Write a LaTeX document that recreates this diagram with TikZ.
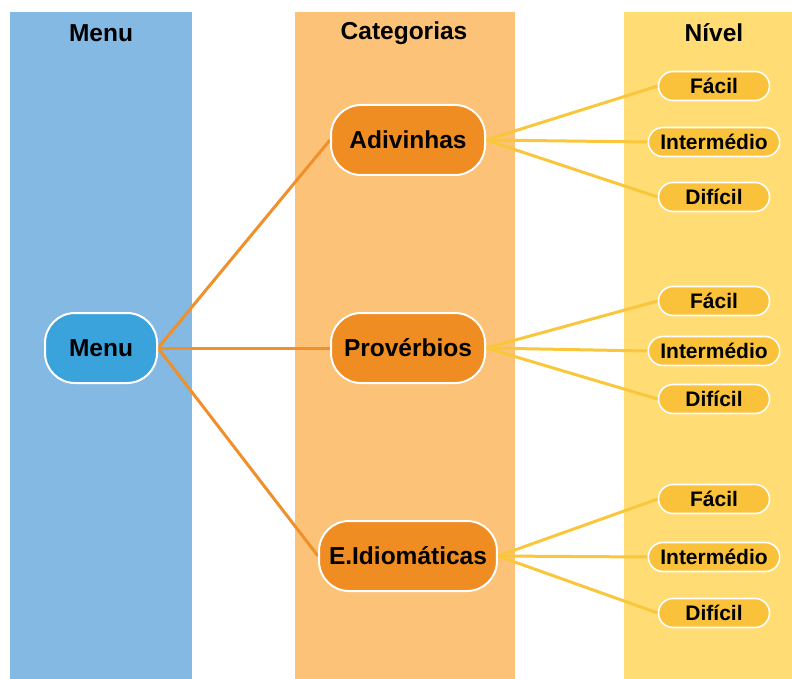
\documentclass[tikz,border=0pt]{standalone}
\usepackage{fontspec}
\setmainfont{Liberation Sans}
\usetikzlibrary{backgrounds}

\definecolor{colblue}{HTML}{84B9E3}
\definecolor{colorange}{HTML}{FCC277}
\definecolor{colyellow}{HTML}{FFDC74}
\definecolor{menufill}{HTML}{3AA3DC}
\definecolor{catfill}{HTML}{EF8C22}
\definecolor{levelfill}{HTML}{FAC23B}
\definecolor{catline}{HTML}{F0902A}
\definecolor{levelline}{HTML}{FAC63C}

\tikzset{
  header/.style={font=\fontsize{24.5}{28}\selectfont\bfseries, text=black},
  menubox/.style={draw=white, line width=2pt, fill=menufill, rounded corners=30pt,
    minimum width=112pt, minimum height=70pt, inner sep=0pt,
    font=\fontsize{24.5}{28}\selectfont\bfseries},
  catbox/.style={draw=white, line width=2pt, fill=catfill, rounded corners=30pt,
    minimum width=154pt, minimum height=70pt, inner xsep=10pt, inner ysep=0pt,
    font=\fontsize{24.5}{28}\selectfont\bfseries},
  levelbox/.style={draw=white, line width=1.6pt, fill=levelfill, rounded corners=14.5pt,
    minimum width=111pt, minimum height=29pt, inner xsep=12pt, inner ysep=0pt,
    font=\fontsize{21}{24}\selectfont\bfseries},
  catlink/.style={draw=catline, line width=3pt},
  levellink/.style={draw=levelline, line width=3pt},
}

\begin{document}
\begin{tikzpicture}[x=1pt, y=-1pt]
  \useasboundingbox (0,0) rectangle (792,679);

  % column headings
  \node[header] (hmenu) at (101,33) {Menu};
  \node[header] (hcat)  at (404,33) {Categorias};
  \node[header] (hlvl)  at (714,33) {Nível};

  % root
  \node[menubox] (menu) at (101,348) {Menu};

  % categories
  \node[catbox] (adiv) at (408,140) {Adivinhas};
  \node[catbox] (prov) at (408,348) {Provérbios};
  \node[catbox] (expr) at (408,556) {E.Idiomáticas};

  % levels
  \node[levelbox] (a1) at (714,86)  {Fácil};
  \node[levelbox] (a2) at (714,142) {Intermédio};
  \node[levelbox] (a3) at (714,197) {Difícil};

  \node[levelbox] (p1) at (714,301) {Fácil};
  \node[levelbox] (p2) at (714,351) {Intermédio};
  \node[levelbox] (p3) at (714,399) {Difícil};

  \node[levelbox] (e1) at (714,499) {Fácil};
  \node[levelbox] (e2) at (714,557) {Intermédio};
  \node[levelbox] (e3) at (714,613) {Difícil};

  % column bands, then connectors, all behind the nodes
  \begin{scope}[on background layer]
    \fill[colblue]   (10,12)  rectangle (192,679);
    \fill[colorange] (295,12) rectangle (515,679);
    \fill[colyellow] (624,12) rectangle (792,679);
    \draw[catlink] (menu.east) -- (adiv.west);
    \draw[catlink] (menu.east) -- (prov.west);
    \draw[catlink] (menu.east) -- (expr.west);
    \foreach \c/\l in {adiv/a1, adiv/a2, adiv/a3, prov/p1, prov/p2, prov/p3, expr/e1, expr/e2, expr/e3}
      \draw[levellink] (\c.east) -- (\l.west);
  \end{scope}
\end{tikzpicture}
\end{document}
